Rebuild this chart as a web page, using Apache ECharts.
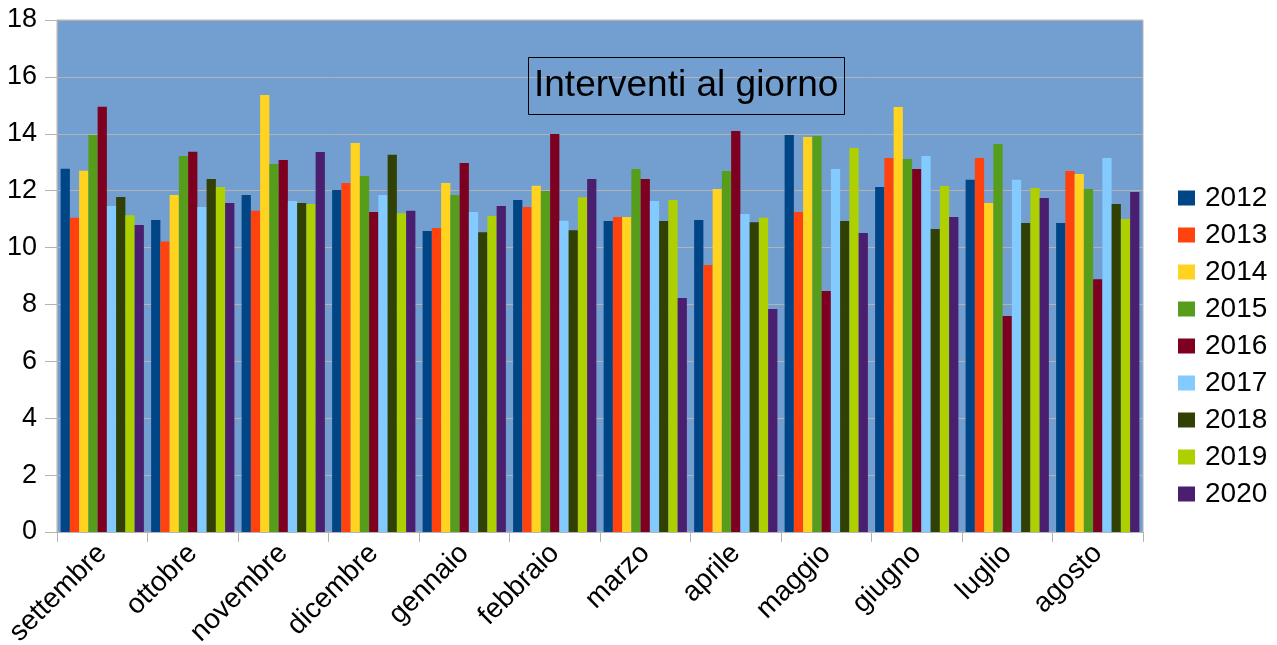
<!DOCTYPE html>
<html>
<head>
<meta charset="utf-8">
<script src="https://cdn.jsdelivr.net/npm/echarts@6/dist/echarts.min.js"></script>
<style>html,body{margin:0;padding:0;background:#fff}#c{width:1277px;height:645px}</style>
</head>
<body>
<div id="c"></div>
<script>
var months = ['settembre','ottobre','novembre','dicembre','gennaio','febbraio','marzo','aprile','maggio','giugno','luglio','agosto'];
var years = ['2012','2013','2014','2015','2016','2017','2018','2019','2020'];
var colors = ['#004586','#ff420e','#ffd320','#579d1c','#7e0021','#83caff','#314004','#aecf00','#4b1f6f'];
var y2012 = [12.77,10.97,11.85,12.02,10.58,11.67,10.93,10.97,13.96,12.13,12.38,10.86];
var y2013 = [11.05,10.21,11.29,12.27,10.69,11.43,11.07,9.39,11.25,13.15,13.15,12.69];
var y2014 = [12.70,11.85,15.36,13.68,12.27,12.17,11.07,12.06,13.89,14.94,11.57,12.59];
var y2015 = [13.96,13.22,12.94,12.52,11.85,11.99,12.76,12.69,13.92,13.11,13.64,12.06];
var y2016 = [14.95,13.37,13.08,11.25,12.97,13.99,12.41,14.10,8.47,12.76,7.59,8.89];
var y2017 = [11.46,11.43,11.64,11.85,11.25,10.94,11.64,11.18,12.76,13.22,12.38,13.15];
var y2018 = [11.78,12.41,11.57,13.26,10.54,10.61,10.93,10.89,10.93,10.65,10.86,11.53];
var y2019 = [11.14,12.13,11.53,11.21,11.11,11.77,11.67,11.05,13.50,12.16,12.09,11.00];
var y2020 = [10.79,11.57,13.36,11.29,11.46,12.41,8.23,7.84,10.51,11.07,11.74,11.95];
var yTicks = [0,2,4,6,8,10,12,14,16,18];
var title = 'Interventi al giorno';

var seriesData = [y2012,y2013,y2014,y2015,y2016,y2017,y2018,y2019,y2020];
var FONT = '"Liberation Sans", Arial, sans-serif';
var chart = echarts.init(document.getElementById('c'), null, {renderer:'canvas'});
chart.setOption({
  animation: false,
  color: colors,
  title: {
    text: title,
    left: 528, top: 57,
    padding: [10, 6, 10, 6],
    borderColor: '#000', borderWidth: 1,
    textStyle: {fontFamily: FONT, fontSize: 37, fontWeight: 'normal', color: '#000', lineHeight: 38}
  },
  legend: {
    orient: 'vertical',
    left: 1178, top: 184,
    padding: 0,
    itemWidth: 17, itemHeight: 15,
    itemGap: 9,
    icon: 'rect',
    textStyle: {fontFamily: FONT, fontSize: 28, color: '#000', lineHeight: 28, padding: [0,0,0,5]},
    data: years
  },
  grid: {
    left: 57, right: 134, top: 20, bottom: 113,
    outerBoundsMode: 'none',
    show: true, backgroundColor: '#729fcf', borderColor: '#b3b3b3', borderWidth: 1
  },
  xAxis: {
    type: 'category',
    data: months,
    axisLine: {lineStyle: {color: '#b3b3b3'}},
    axisTick: {show: true, length: 10, lineStyle: {color: '#b3b3b3'}},
    axisLabel: {rotate: 45, margin: 17, interval: 0, fontFamily: FONT, fontSize: 28, color: '#000'}
  },
  yAxis: {
    type: 'value',
    min: yTicks[0], max: yTicks[yTicks.length-1], interval: yTicks[1]-yTicks[0],
    axisLine: {show: true, lineStyle: {color: '#b3b3b3'}},
    axisTick: {show: true, length: 12, lineStyle: {color: '#b3b3b3'}},
    splitLine: {lineStyle: {color: '#b3b3b3'}},
    axisLabel: {margin: 20, fontFamily: FONT, fontSize: 27, color: '#000'}
  },
  series: years.map(function(y, i){
    return {
      name: y, type: 'bar', data: seriesData[i],
      barGap: '0%', barCategoryGap: '8%'
    };
  })
});
</script>
</body>
</html>
